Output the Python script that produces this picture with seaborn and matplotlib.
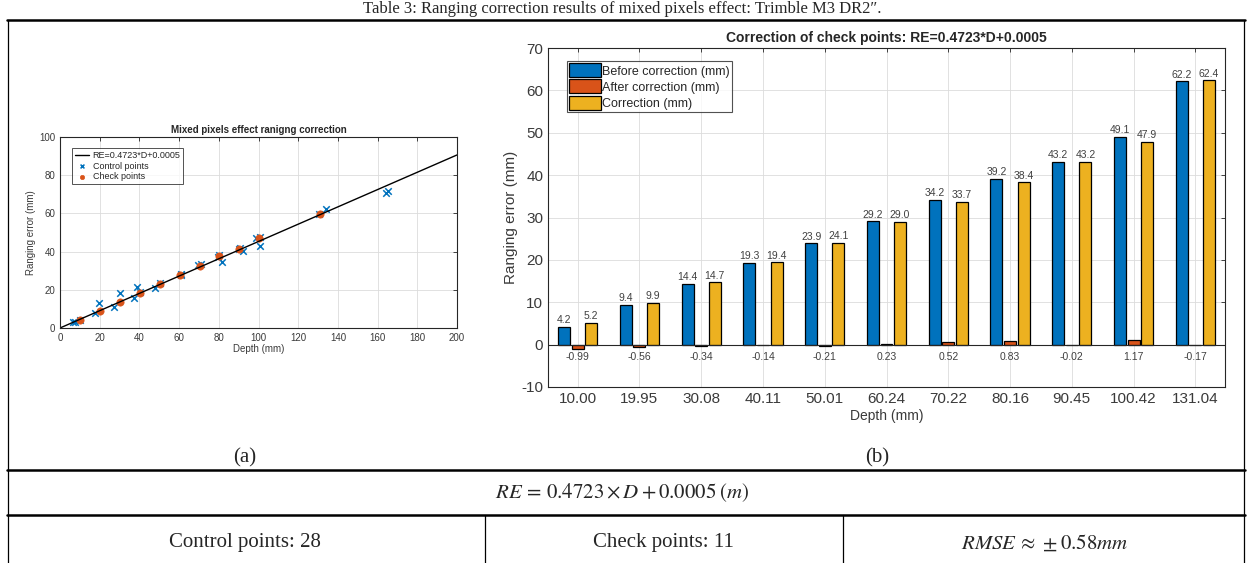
import matplotlib
matplotlib.use("Agg")
import matplotlib.pyplot as plt
from matplotlib.lines import Line2D
import pandas as pd
import seaborn as sns

# ---- data ----
depth_labels = ["10.00", "19.95", "30.08", "40.11", "50.01", "60.24",
                "70.22", "80.16", "90.45", "100.42", "131.04"]
before = [4.2, 9.4, 14.4, 19.3, 23.9, 29.2, 34.2, 39.2, 43.2, 49.1, 62.2]
after = [-0.99, -0.56, -0.34, -0.14, -0.21, 0.23, 0.52, 0.83, -0.02, 1.17, -0.17]
correction = [5.2, 9.9, 14.7, 19.4, 24.1, 29.0, 33.7, 38.4, 43.2, 47.9, 62.4]

control_d = [6.8, 7.4, 10.0, 17.8, 19.8, 27.0, 30.1, 37.5, 38.9, 40.5, 47.9, 50.5,
             60.8, 61.2, 69.3, 70.8, 79.6, 80.2, 81.5, 90.0, 90.9, 92.1, 98.8, 100.9,
             101.0, 130.3, 134.1, 164.0]
control_re = [3.2, 3.4, 4.3, 7.8, 13.0, 11.0, 18.3, 15.5, 21.7, 18.8, 21.2, 23.3,
              28.0, 28.1, 32.9, 33.3, 37.4, 38.0, 34.4, 41.2, 41.8, 40.2, 47.0, 47.4,
              43.0, 59.5, 62.1, 70.8]
control_d += [165.0]
control_re += [71.6]
check_d = [10.1, 20.2, 30.3, 40.3, 50.4, 60.5, 70.6, 80.3, 90.4, 100.5, 131.1]
check_re = [4.0, 8.7, 13.6, 18.4, 23.0, 28.0, 32.7, 37.6, 41.4, 47.1, 59.5]
fit_d = [0, 200]
fit_re = [0, 90.6]

series_names = ["Before correction (mm)", "After correction (mm)", "Correction (mm)"]
series_colors = ["#0072BD", "#D95319", "#EDB120"]

sns.set_theme(style="whitegrid")
plt.rcParams['font.family'] = ['Liberation Sans', 'DejaVu Sans']
plt.rcParams['mathtext.fontset'] = 'stix'
plt.rcParams['axes.unicode_minus'] = False

W, H = 1247, 563
fig = plt.figure(figsize=(W / 100, H / 100), dpi=100)
fig.patch.set_facecolor("white")


def px_rect(l, t, r, b):
    return [l / W, 1 - b / H, (r - l) / W, (b - t) / H]


def matlab_axes(ax, fs):
    for s in ax.spines.values():
        s.set_color("#262626")
        s.set_linewidth(0.8)
        s.set_visible(True)
    ax.set_facecolor("white")
    ax.tick_params(direction="in", top=True, right=True, length=3,
                   labelsize=fs, colors="#262626", width=0.6)
    for lab in ax.get_xticklabels() + ax.get_yticklabels():
        lab.set_color("#3a3a3a")
    ax.grid(True, color="#dcdcdc", linewidth=0.6)
    ax.set_axisbelow(True)


# ---- (a) scatter ----
ax1 = fig.add_axes(px_rect(60, 137, 457, 328))
sns.lineplot(x=fit_d, y=fit_re, ax=ax1, color="black", linewidth=1.0,
             label="RE=0.4723*D+0.0005")
sns.scatterplot(x=control_d, y=control_re, ax=ax1, marker="x", color="#0072BD",
                s=22, linewidth=1.1, label="Control points")
sns.scatterplot(x=check_d, y=check_re, ax=ax1, marker="o", color="#D95319",
                s=28, edgecolor="#D95319", label="Check points")
ax1.set_xlim(0, 200)
ax1.set_ylim(0, 100)
ax1.set_xticks(range(0, 201, 20))
ax1.set_yticks(range(0, 101, 20))
matlab_axes(ax1, 7)
ax1.set_xlabel("Depth (mm)", fontsize=7, color="#3a3a3a", labelpad=1)
ax1.set_ylabel("Ranging error (mm)", fontsize=7, color="#3a3a3a", labelpad=2)
ax1.set_title("Mixed pixels effect ranigng correction", fontsize=7,
              fontweight="bold", pad=3)
lg1 = ax1.legend(loc="upper left", bbox_to_anchor=(0.03, 0.94), fontsize=6.5,
                 frameon=True, fancybox=False, edgecolor="#262626",
                 borderpad=0.3, labelspacing=0.15, handlelength=1.6,
                 handletextpad=0.4, markerscale=0.6, borderaxespad=0)
lg1.get_frame().set_linewidth(0.7)

# ---- (b) grouped bars ----
df = pd.DataFrame({
    "Depth": depth_labels * 3,
    "Series": [series_names[0]] * 11 + [series_names[1]] * 11 + [series_names[2]] * 11,
    "Value": before + after + correction,
})
ax2 = fig.add_axes(px_rect(548, 48, 1225, 387))
sns.barplot(data=df, x="Depth", y="Value", hue="Series", order=depth_labels,
            hue_order=series_names, palette=series_colors, ax=ax2,
            width=0.66, gap=0.12, edgecolor="black", linewidth=0.9,
            errorbar=None, saturation=1)
ax2.set_ylim(-10, 70)
ax2.set_xlim(-0.48, 10.48)
ax2.set_yticks(range(-10, 71, 10))
matlab_axes(ax2, 11)
ax2.axhline(0, color="#262626", linewidth=0.8, zorder=1)
ax2.set_xlabel("Depth (mm)", fontsize=10, color="#3a3a3a", labelpad=2)
ax2.set_ylabel("Ranging error (mm)", fontsize=11, color="#3a3a3a", labelpad=2)
ax2.set_title("Correction of check points: RE=0.4723*D+0.0005", fontsize=10,
              fontweight="bold", pad=4)

cont = ax2.containers
ax2.bar_label(cont[0], labels=[f"{v:.1f}" for v in before], padding=1,
              fontsize=7.5, color="#404040")
ax2.bar_label(cont[2], labels=[f"{v:.1f}" for v in correction], padding=1,
              fontsize=7.5, color="#404040")
for bar, v in zip(cont[1], after):
    ax2.text(bar.get_x() + bar.get_width() / 2, -2.9, f"{v:.2f}",
             ha="center", va="center", fontsize=7.5, color="#404040")

handles, labels = ax2.get_legend_handles_labels()
lg2 = ax2.legend(handles, labels, loc="upper left", bbox_to_anchor=(0.028, 0.962),
                 fontsize=9, frameon=True, fancybox=False, edgecolor="#262626",
                 borderpad=0.2, labelspacing=0.15, handlelength=2.5,
                 handleheight=1.35, handletextpad=0.1, borderaxespad=0)
lg2.get_frame().set_linewidth(0.8)

# ---- table frame and text ----
serif = ['Liberation Serif', 'DejaVu Serif']
fig.text(622 / W, 1 - 1 / H,
         "Table 3: Ranging correction results of mixed pixels effect: Trimble M3 DR2\u2033.",
         ha="center", va="top", fontsize=12, family=serif)


def hline(y, x0, x1, lw):
    fig.add_artist(Line2D([x0 / W, x1 / W], [1 - y / H, 1 - y / H],
                          color="black", linewidth=lw))


def vline(x, y0, y1, lw):
    fig.add_artist(Line2D([x / W, x / W], [1 - y0 / H, 1 - y1 / H],
                          color="black", linewidth=lw))


hline(20, 7, 1245, 1.8)
hline(470, 7, 1245, 1.8)
hline(515, 7, 1245, 1.8)
vline(8, 20, 563, 0.9)
vline(1244, 20, 563, 0.9)
vline(485, 515, 563, 0.9)
vline(843, 515, 563, 0.9)

fig.text(245 / W, 1 - 458 / H, "(a)", ha="center", va="center", fontsize=15, family=serif)
fig.text(877 / W, 1 - 458 / H, "(b)", ha="center", va="center", fontsize=15, family=serif)
fig.text(622 / W, 1 - 493 / H, r"$RE\,=\,0.4723\times D+0.0005\;(m)$",
         ha="center", va="center", fontsize=15)
fig.text(245 / W, 1 - 543 / H, "Control points: 28", ha="center", va="center",
         fontsize=15, family=serif)
fig.text(663 / W, 1 - 543 / H, "Check points: 11", ha="center", va="center",
         fontsize=15, family=serif)
fig.text(1045 / W, 1 - 543 / H, r"$RMSE\,\approx\,\pm0.58mm$", ha="center",
         va="center", fontsize=15)

fig.savefig("out.png", dpi=100)
